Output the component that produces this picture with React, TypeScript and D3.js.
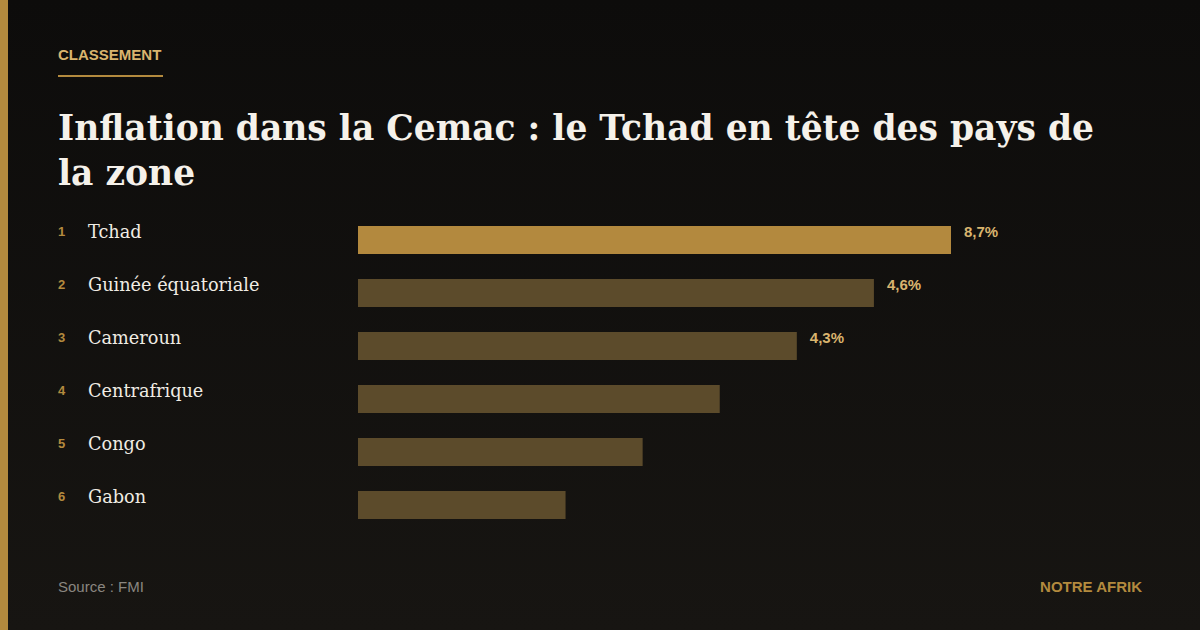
import React from "react";
import * as d3 from "d3";

const countries = ["Tchad", "Guinée équatoriale", "Cameroun", "Centrafrique", "Congo", "Gabon"];
const ranks = [1, 2, 3, 4, 5, 6];
const valueLabels = ["8,7%", "4,6%", "4,3%", "", "", ""];
const barScores = [100, 87, 74, 61, 48, 35];

const W = 1200;
const H = 630;

export default function App() {
  const x = d3.scaleLinear().domain([0, 100]).range([358, 951]);
  const y = d3
    .scaleBand<number>()
    .domain(ranks)
    .range([226 - 12.5, 226 - 12.5 + 53 * 6])
    .paddingInner(25 / 53)
    .paddingOuter(12.5 / 53);
  const bh = y.bandwidth();
  const sans = "'Liberation Sans', Arial, sans-serif";
  const serif = "'DejaVu Serif', Georgia, serif";

  return (
    <svg width={W} height={H} style={{ position: "absolute", left: 0, top: 0, display: "block" }}>
      <defs>
        <linearGradient id="bg" x1="0" y1="0" x2="0" y2="1">
          <stop offset="0" stopColor="#0d0c0b" />
          <stop offset="1" stopColor="#171512" />
        </linearGradient>
      </defs>
      <rect width={W} height={H} fill="url(#bg)" />
      <rect x={0} y={0} width={8} height={H} fill="#b38a3e" />

      <text x={58} y={60} fontFamily={sans} fontWeight={700} fontSize={15} fill="#d9b46e">CLASSEMENT</text>
      <rect x={58} y={75} width={105} height={2} fill="#b38a3e" />

      <text fontFamily={serif} fontWeight={700} fontSize={34.5} fill="#f5f1ea">
        <tspan x={58} y={140}>Inflation dans la Cemac : le Tchad en tête des pays de</tspan>
        <tspan x={58} y={185}>la zone</tspan>
      </text>

      {countries.map((c, i) => {
        const r = ranks[i];
        const top = y(r)!;
        const xe = x(barScores[i]);
        return (
          <g key={c}>
            <text x={58} y={top + 10} fontFamily={sans} fontWeight={700} fontSize={13} fill="#b38a3e">{r}</text>
            <text x={88} y={top + 12} fontFamily={serif} fontSize={17.7} fill="#f0ece4">{c}</text>
            <rect x={x(0)} y={top} width={xe - x(0)} height={bh} fill={i === 0 ? "#b3893e" : "#5c4b2b"} />
            {valueLabels[i] && (
              <text x={xe + 13} y={top + 11} fontFamily={sans} fontWeight={700} fontSize={15} fill="#d9b46e">{valueLabels[i]}</text>
            )}
          </g>
        );
      })}

      <text x={58} y={592} fontFamily={sans} fontSize={15} fill="#8a8680">Source : FMI</text>
      <text x={1142} y={592} textAnchor="end" fontFamily={sans} fontWeight={700} fontSize={15} fill="#b38a3e">NOTRE AFRIK</text>
    </svg>
  );
}
